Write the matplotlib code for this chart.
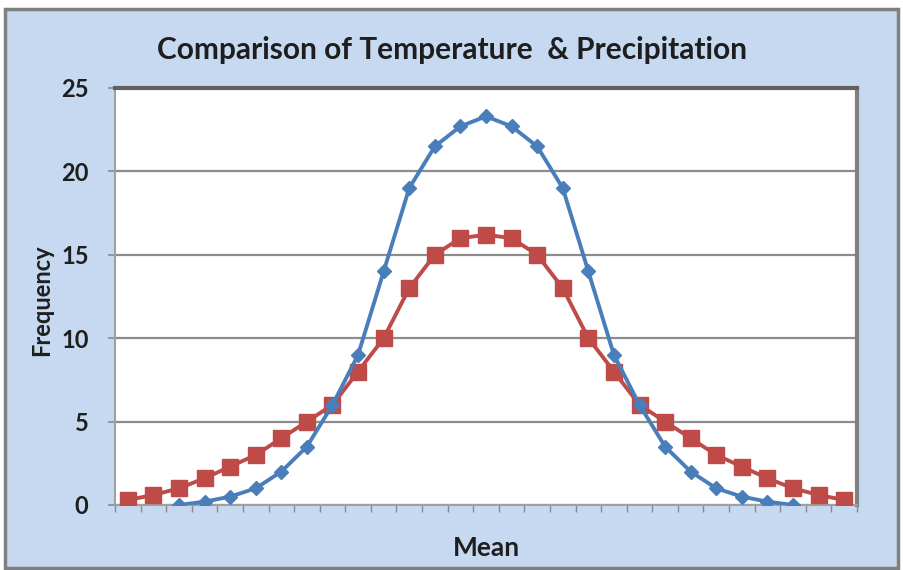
import numpy as np
import matplotlib.pyplot as plt
from matplotlib.patches import Rectangle

# frequency per bin, 29 bins along the "Mean" axis
precip = [0.3, 0.6, 1.0, 1.6, 2.3, 3.0, 4.0, 5.0, 6.0, 8.0, 10.0, 13.0, 15.0, 16.0, 16.2,
          16.0, 15.0, 13.0, 10.0, 8.0, 6.0, 5.0, 4.0, 3.0, 2.3, 1.6, 1.0, 0.6, 0.3]
# temperature covers bins 2..26 only
temp = [0.0, 0.2, 0.5, 1.0, 2.0, 3.5, 6.0, 9.0, 14.0, 19.0, 21.5, 22.7, 23.3,
        22.7, 21.5, 19.0, 14.0, 9.0, 6.0, 3.5, 2.0, 1.0, 0.5, 0.2, 0.0]
temp_start = 2
yticks = [0, 5, 10, 15, 20, 25]

bg = '#c6d9f1'
txt = '#1e1e1e'
plt.rcParams['font.family'] = ['Lato', 'DejaVu Sans']

fig = plt.figure(figsize=(9.04, 5.70), dpi=100)
fig.patch.set_facecolor('white')

# outer chart frame
W, H = 904, 570
frame = Rectangle((5 / W, 2 / H), 893 / W, 559 / H, transform=fig.transFigure,
                  facecolor=bg, edgecolor='#7f7f7f', linewidth=2.5, zorder=-10)
fig.patches.append(frame)

ax = fig.add_axes([115 / W, 65 / H, 742 / W, 417 / H])
ax.set_facecolor('white')

xr = np.arange(len(precip))
xt = np.arange(temp_start, temp_start + len(temp))

ax.plot(xt, temp, '-D', color='#4a7ebb', lw=2.8, ms=7, zorder=4)
ax.plot(xr, precip, '-s', color='#be4b48', lw=2.8, ms=11, zorder=3)

ax.set_xlim(-0.5, len(precip) - 0.5)
ax.set_ylim(0, 25)
ax.set_yticks(yticks)
ax.set_yticklabels([str(v) for v in yticks], fontsize=17, fontweight='bold', color=txt)
ax.set_xticks(np.arange(-0.5, len(precip), 1.0))
ax.set_xticklabels([])
ax.tick_params(axis='x', direction='out', length=5, width=1, color='#8a8a8a')
ax.tick_params(axis='y', direction='out', length=5, width=1.2, color='#8a8a8a', pad=14)

ax.grid(axis='y', color='#8c8c8c', lw=1.6)
ax.set_axisbelow(True)

ax.spines['left'].set_color('#a0a0a0')
ax.spines['left'].set_linewidth(1.5)
ax.spines['bottom'].set_color('#a0a0a0')
ax.spines['bottom'].set_linewidth(1.5)
ax.spines['top'].set_color('#606060')
ax.spines['top'].set_linewidth(3)
ax.spines['right'].set_color('#808080')
ax.spines['right'].set_linewidth(3)

ax.set_ylabel('Frequency', fontsize=17, fontweight='bold', color=txt, va='center')
ax.yaxis.set_label_coords((42 - 115) / 742, (505 - 300) / 417)
ax.set_xlabel('Mean', fontsize=19, fontweight='bold', color=txt, va='center')
ax.xaxis.set_label_coords((486 - 115) / 742, (505 - 548) / 417)
fig.text(452 / W, 1 - 50 / H, 'Comparison of Temperature  & Precipitation', ha='center', va='center',
         fontsize=21.5, fontweight='bold', color=txt)

fig.savefig('out.png', dpi=100, facecolor=fig.get_facecolor())
